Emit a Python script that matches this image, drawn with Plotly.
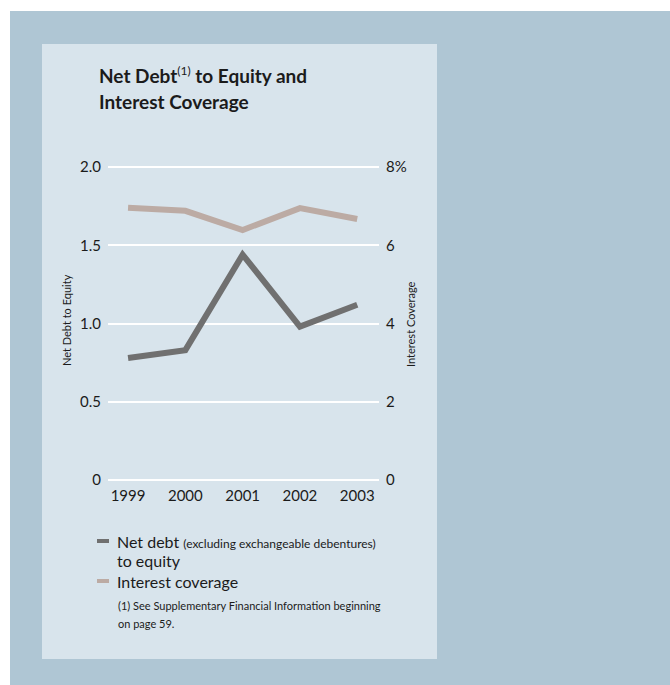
import plotly.graph_objects as go

# Data
years = [1999, 2000, 2001, 2002, 2003]
net_debt_to_equity = [0.78, 0.83, 1.44, 0.98, 1.12]
interest_coverage = [6.96, 6.88, 6.39, 6.95, 6.67]

left_ticks = [0, 0.5, 1.0, 1.5, 2.0]
left_ticktext = ["0", "0.5", "1.0", "1.5", "2.0"]
right_ticks = [0, 2, 4, 6, 8]
right_ticktext = ["0", "2", "4", "6", "8%"]

W_FIG, H_FIG = 670, 685
L, R, T, B = 108, 379, 165, 482  # plot area in pixels
PW, PH = R - L, B - T
PAD = 0.0065  # small range padding so the edge gridlines are drawn

FONT = "Lato, 'Noto Sans', sans-serif"
INK = "#1b1b1b"
DEBT_COLOR = "#707070"
COV_COLOR = "#bcaba4"
OUTER_BG = "#afc6d4"
PANEL_BG = "#d8e4ec"


def px(x):
    return (x - L) / PW


def py(y):
    return (B - y) / PH


fig = go.Figure()
fig.add_trace(go.Scatter(
    x=years, y=net_debt_to_equity, mode="lines",
    line=dict(color=DEBT_COLOR, width=6), yaxis="y",
    name="Net debt to equity", showlegend=False,
))
fig.add_trace(go.Scatter(
    x=years, y=interest_coverage, mode="lines",
    line=dict(color=COV_COLOR, width=6), yaxis="y2",
    name="Interest coverage", showlegend=False,
))

shapes = [
    # outer band and inner panel
    dict(type="rect", xref="paper", yref="paper", x0=px(10), x1=px(670),
         y0=py(685), y1=py(11), fillcolor=OUTER_BG, line_width=0, layer="below"),
    dict(type="rect", xref="paper", yref="paper", x0=px(42), x1=px(437),
         y0=py(659), y1=py(44), fillcolor=PANEL_BG, line_width=0, layer="below"),
    # legend swatches
    dict(type="rect", xref="paper", yref="paper", x0=px(97), x1=px(109),
         y0=py(543), y1=py(539), fillcolor=DEBT_COLOR, line_width=0),
    dict(type="rect", xref="paper", yref="paper", x0=px(97), x1=px(109),
         y0=py(583), y1=py(579), fillcolor=COV_COLOR, line_width=0),
]


def label(text, x, y, size, **kw):
    d = dict(text=text, xref="paper", yref="paper", x=px(x), y=py(y),
             xanchor="left", yanchor="middle", showarrow=False,
             font=dict(family=FONT, size=size, color=INK))
    d.update(kw)
    return d


annotations = [
    label("<b>Net Debt</b><sup><span style='font-size:12px'>(1)</span></sup><b> to Equity and</b>",
          97, 75, 19),
    label("<b>Interest Coverage</b>", 97, 102, 19),
    label("Net Debt to Equity", 66, 320, 11, xanchor="center", textangle=-90),
    label("Interest Coverage", 410, 324, 11, xanchor="center", textangle=-90),
    label("Net debt <span style='font-size:12px'>(excluding exchangeable debentures)</span>",
          115, 541, 16),
    label("to equity", 115, 560, 16),
    label("Interest coverage", 115, 581, 16),
    label("(1) See Supplementary Financial Information beginning", 116, 605, 11),
    label("on page 59.", 116, 623, 11),
]

fig.update_layout(
    width=W_FIG, height=H_FIG,
    margin=dict(l=L, r=W_FIG - R, t=T, b=H_FIG - B, pad=0),
    paper_bgcolor="white", plot_bgcolor=PANEL_BG,
    showlegend=False,
    shapes=shapes, annotations=annotations,
    font=dict(family=FONT, color=INK),
    xaxis=dict(
        range=[1998.65, 2003.38], tickvals=years, ticktext=[str(y) for y in years],
        showgrid=False, zeroline=False, showline=False, ticks="",
        tickfont=dict(size=15, color=INK), ticklabelstandoff=3,
    ),
    yaxis=dict(
        range=[-2 * PAD, 2 * (1 + PAD)], tickvals=left_ticks, ticktext=left_ticktext,
        showgrid=True, gridcolor="white", gridwidth=2,
        zeroline=False, showline=False, ticks="",
        tickfont=dict(size=15, color=INK), ticklabelstandoff=6,
    ),
    yaxis2=dict(
        range=[-8 * PAD, 8 * (1 + PAD)], tickvals=right_ticks, ticktext=right_ticktext,
        overlaying="y", side="right", showgrid=False, zeroline=False,
        showline=False, ticks="",
        tickfont=dict(size=15, color=INK), ticklabelstandoff=6,
    ),
)

fig.write_html("out.html")
